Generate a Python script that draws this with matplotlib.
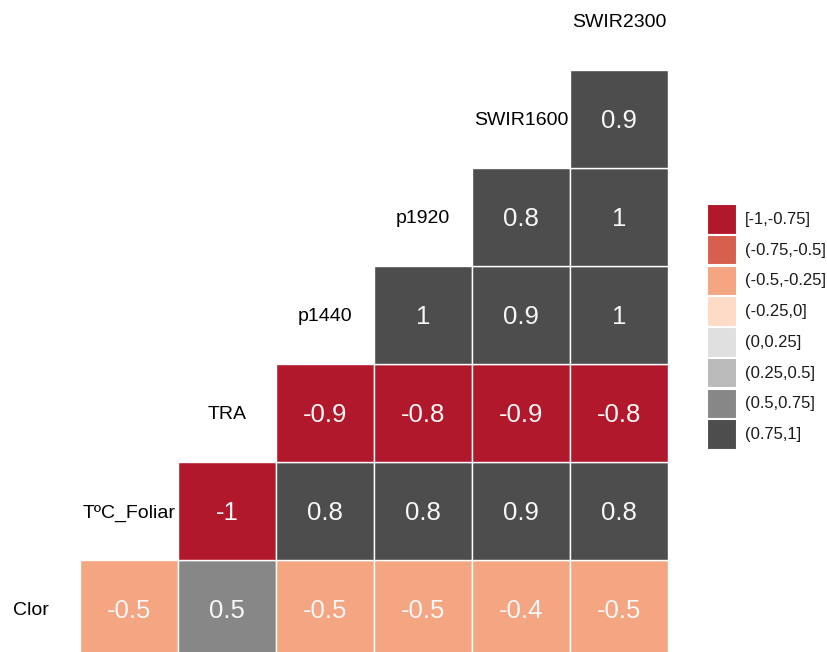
import numpy as np
import pandas as pd
import matplotlib
matplotlib.use("Agg")
import matplotlib.pyplot as plt
from matplotlib.patches import Rectangle

plt.rcParams['font.family'] = ['Liberation Sans', 'DejaVu Sans']

# variables in the order of the correlation matrix
variables = ["Clor", "TºC_Foliar", "TRA", "p1440", "p1920", "SWIR1600", "SWIR2300"]

# lower triangle: row variable i against every later variable j (j > i)
corr_clor = [-0.47, 0.53, -0.47, -0.47, -0.42, -0.47]
corr_tc = [-0.98, 0.82, 0.81, 0.88, 0.82]
corr_tra = [-0.88, -0.84, -0.89, -0.83]
corr_p1440 = [0.98, 0.91, 0.97]
corr_p1920 = [0.82, 0.98]
corr_swir1600 = [0.93]
corr_rows = [corr_clor, corr_tc, corr_tra, corr_p1440, corr_p1920, corr_swir1600]

# colour classes (RdGy)
bin_edges = [-1, -0.75, -0.5, -0.25, 0, 0.25, 0.5, 0.75, 1]
bin_labels = ["[-1,-0.75]", "(-0.75,-0.5]", "(-0.5,-0.25]", "(-0.25,0]",
              "(0,0.25]", "(0.25,0.5]", "(0.5,0.75]", "(0.75,1]"]
bin_colors = ["#B2182B", "#D6604D", "#F4A582", "#FDDBC7",
              "#E0E0E0", "#BABABA", "#878787", "#4D4D4D"]

fig = plt.figure(figsize=(8.27, 6.52), dpi=100)
ax = fig.add_axes([0, 0, 1, 1])
ax.set_xlim(-0.816, 7.622)
ax.set_ylim(0.061, 6.714)
ax.axis("off")

# tiles
for i, row in enumerate(corr_rows):
    cats = pd.cut(row, bins=bin_edges, labels=False, include_lowest=True)
    for k, v in enumerate(row):
        col = i + k  # column index of variable j = i + k + 1
        ax.add_patch(Rectangle((col, i), 1, 1, facecolor=bin_colors[cats[k]],
                               edgecolor="white", linewidth=1))
        ax.text(col + 0.5, i + 0.5, f"{round(v, 1):g}", color="#F7F7F7",
                fontsize=18.5, ha="center", va="center_baseline")

# variable names on the diagonal
for k, name in enumerate(variables):
    ax.text(k - 0.5, k + 0.5, name, fontsize=14, color="black",
            ha="center", va="center_baseline")

# legend
W, H = 827, 652
key_w, key_h = 30, 30.75
key_x, key_top = 707, 204
for n, (lab, c) in enumerate(zip(bin_labels, bin_colors)):
    y_top = key_top + n * key_h
    fig.patches.append(Rectangle((key_x / W, 1 - (y_top + key_h) / H),
                                 key_w / W, key_h / H,
                                 facecolor=c, edgecolor="white", linewidth=1.5,
                                 transform=fig.transFigure, figure=fig))
    fig.text((key_x + key_w + 8) / W, 1 - (y_top + key_h / 2) / H, lab,
             fontsize=12, color="#1a1a1a", ha="left", va="center")

fig.savefig("out.png", dpi=100)
